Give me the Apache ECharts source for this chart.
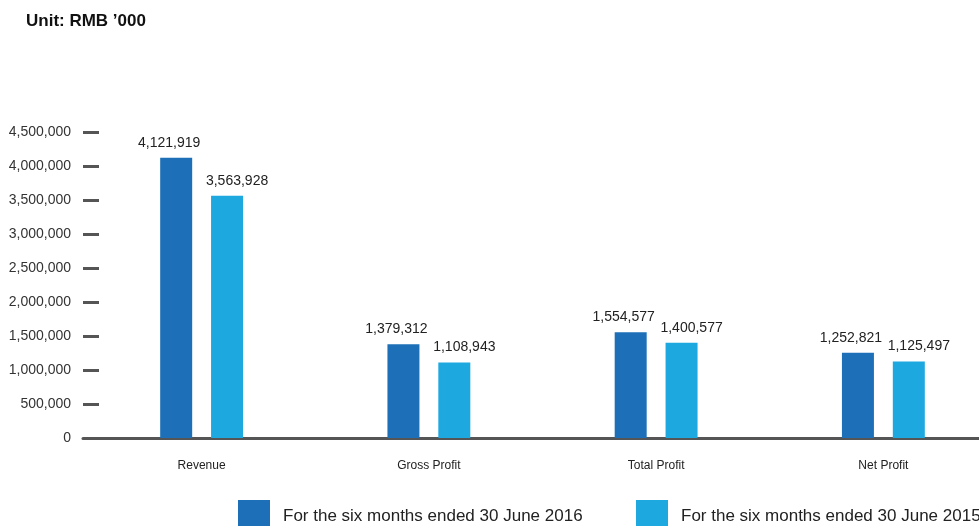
<!DOCTYPE html>
<html>
<head>
<meta charset="utf-8">
<script src="https://cdn.jsdelivr.net/npm/echarts@6/dist/echarts.min.js"></script>
<style>
  html, body { margin: 0; padding: 0; background: #fff; overflow: hidden; }
  #chart { width: 1000px; height: 526px; }
</style>
</head>
<body>
<div id="chart"></div>
<script>
// Half-year financial summary (RMB '000)
const categories = ['Revenue', 'Gross Profit', 'Total Profit', 'Net Profit'];
const period2016 = [4121919, 1379312, 1554577, 1252821];
const period2015 = [3563928, 1108943, 1400577, 1125497];
const seriesNames = [
  'For the six months ended 30 June 2016',
  'For the six months ended 30 June 2015'
];
const yMin = 0;
const yMax = 4500000;
const yStep = 500000;

const FONT = '"Liberation Sans", Arial, Helvetica, sans-serif';
const DARK = '#1d70b7';
const LIGHT = '#1ea8e0';

const fmt = v => v.toLocaleString('en-US');

const legendBase = {
  top: 500,
  padding: 0,
  itemWidth: 32,
  itemHeight: 32,
  icon: 'rect',
  textStyle: { fontFamily: FONT, fontSize: 17, color: '#222', padding: [4, 0, 0, 8] }
};

const chart = echarts.init(document.getElementById('chart'));
chart.setOption({
  animation: false,
  backgroundColor: '#fff',
  textStyle: { fontFamily: FONT },
  title: {
    text: "Unit: RMB \u2019000",
    left: 26,
    top: 13,
    padding: 0,
    textStyle: { fontFamily: FONT, fontSize: 17, fontWeight: 'bold', color: '#111' }
  },
  legend: [
    Object.assign({ data: [seriesNames[0]], left: 238 }, legendBase),
    Object.assign({ data: [seriesNames[1]], left: 636 }, legendBase)
  ],
  grid: [
    // bars
    { left: 88, width: 909, top: 132, height: 306 },
    // value scale and baseline
    { left: 83, width: 914, top: 132, height: 306 }
  ],
  xAxis: [
    {
      type: 'category',
      gridIndex: 0,
      data: categories,
      axisLine: { show: false },
      axisTick: { show: false },
      axisLabel: { margin: 22, fontFamily: FONT, fontSize: 12, color: '#222' }
    },
    {
      type: 'value',
      gridIndex: 1,
      min: 0,
      max: 1,
      axisLine: { show: true, lineStyle: { color: '#555', width: 3 } },
      axisTick: { show: false },
      axisLabel: { show: false },
      splitLine: { show: false }
    }
  ],
  yAxis: [
    {
      type: 'value',
      gridIndex: 0,
      min: yMin,
      max: yMax,
      interval: yStep,
      axisLine: { show: false },
      axisTick: { show: false },
      axisLabel: { show: false },
      splitLine: { show: false }
    },
    {
      type: 'value',
      gridIndex: 1,
      min: yMin,
      max: yMax,
      interval: yStep,
      axisLine: { show: false },
      axisTick: { show: true, inside: true, length: 16, lineStyle: { color: '#555', width: 3 } },
      axisLabel: { margin: 12, fontFamily: FONT, fontSize: 14, color: '#333', formatter: fmt },
      splitLine: { show: false }
    }
  ],
  series: [
    {
      name: seriesNames[0],
      type: 'bar',
      xAxisIndex: 0,
      yAxisIndex: 0,
      data: period2016,
      barWidth: 32,
      barGap: '59%',
      itemStyle: { color: DARK },
      label: {
        show: true,
        position: 'top',
        distance: 8,
        offset: [-7, 0],
        fontFamily: FONT,
        fontSize: 14,
        color: '#222',
        formatter: p => fmt(p.value)
      }
    },
    {
      name: seriesNames[1],
      type: 'bar',
      xAxisIndex: 0,
      yAxisIndex: 0,
      data: period2015,
      barWidth: 32,
      itemStyle: { color: LIGHT },
      label: {
        show: true,
        position: 'top',
        distance: 8,
        offset: [10, 0],
        fontFamily: FONT,
        fontSize: 14,
        color: '#222',
        formatter: p => fmt(p.value)
      }
    }
  ]
});
</script>
</body>
</html>
